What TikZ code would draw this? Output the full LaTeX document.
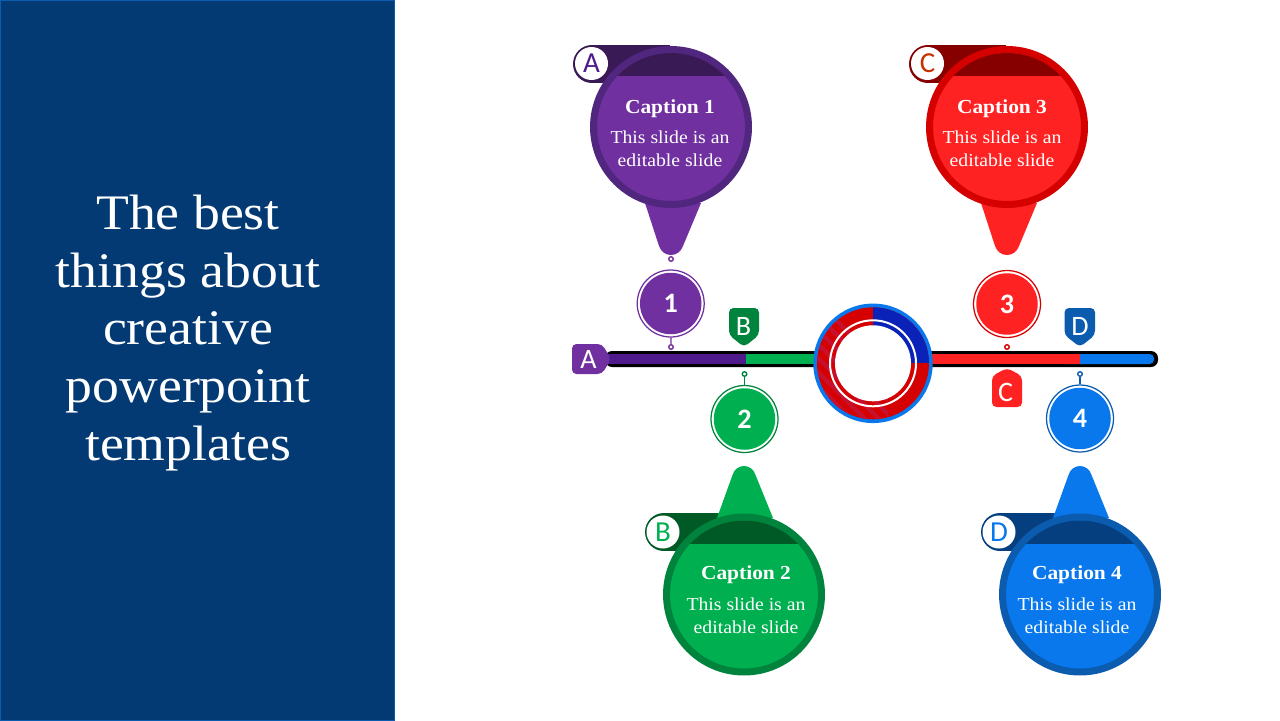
\documentclass[tikz,border=0pt]{standalone}
\usepackage{fontspec}
\setmainfont[FakeStretch=1.08]{Liberation Serif}
\newfontfamily\tagfont{Carlito}
\definecolor{panelblue}{HTML}{033A73}
\definecolor{purpfill}{HTML}{7030A0}
\definecolor{purpring}{HTML}{50267F}
\definecolor{purpcap}{HTML}{3A1A55}
\definecolor{purpbar}{HTML}{4F1A8C}
\definecolor{redfill}{HTML}{FF2222}
\definecolor{redring}{HTML}{D50000}
\definecolor{redcap}{HTML}{860000}
\definecolor{redletter}{HTML}{C83000}
\definecolor{redstripe}{HTML}{C8102E}
\definecolor{grnfill}{HTML}{00B050}
\definecolor{grnring}{HTML}{00843D}
\definecolor{grncap}{HTML}{005A26}
\definecolor{blufill}{HTML}{0878EC}
\definecolor{bluring}{HTML}{0B5CAE}
\definecolor{blucap}{HTML}{063F80}
\definecolor{hubblue}{HTML}{0A22B8}
\tikzset{
	balloon/.style={circle,minimum size=3.1cm,inner sep=0pt,line width=0.14cm},
	captxt/.style={text=white,font=\fontsize{11.3}{13}\selectfont\bfseries},
	bodytxt/.style={text=white,align=center,font=\fontsize{10.4}{13}\selectfont},
	whitecirc/.style={circle,fill=white,minimum size=0.66cm,inner sep=0pt,font=\tagfont\fontsize{16.5}{18}\selectfont},
	numring/.style={circle,fill=white,minimum size=1.34cm,inner sep=0pt,line width=0.025cm},
	numdisk/.style={circle,minimum size=1.23cm,inner sep=0pt,text=white,font=\tagfont\fontsize{16}{18}\selectfont\bfseries},
	smalldot/.style={circle,fill=white,minimum size=0.09cm,inner sep=0pt,line width=0.8pt},
	tagtxt/.style={text=white,inner sep=0pt,font=\tagfont\fontsize{16}{18}\selectfont},
}
\begin{document}
\begin{tikzpicture}[x=0.02cm,y=-0.02cm]
	\useasboundingbox (0,0) rectangle (1280,720);
	\fill[white] (0,0) rectangle (1280,720);

	% left panel
	\draw[draw=bluring,fill=panelblue,line width=0.5pt] (0.5,0.5) rectangle (394.5,720);
	\node[text=white,align=center,font=\fontsize{28.3}{32.9}\selectfont] (title) at (188,333) {The best\\things about\\creative\\powerpoint\\templates};

	% bar
	\fill[black,rounded corners=4pt] (605,351) rectangle (1158,367);
	\fill[purpbar] (605,354) rectangle (746,364);
	\fill[grnfill] (746,354) rectangle (815,364);
	\fill[blufill,rounded corners=2.5pt] (1060,354) rectangle (1154,364);
	\fill[redfill] (932,354) rectangle (1080,364);

	% hub
	\node[circle,fill=blufill,minimum size=2.39cm,inner sep=0pt] (hub) at (873,363.3) {};
	\fill[redring] (873,363.3) circle (56);
	\begin{scope}
		\clip (873,363.3) circle (56);
		\fill[hubblue] (873,363.3) rectangle (940,290);
		\clip (800,312) rectangle (888,430);
		\foreach \d in {-78,-64,...,6}
			\draw[draw=redstripe,line width=2.5pt] ({873+\d-80},{363-80}) -- ({873+\d+80},{363+80});
	\end{scope}
	\draw[white,line width=0.04cm] (873,363.3) circle (43);
	\fill[white] (873,363.3) circle (38);

	% balloon 1
	\fill[purpcap] (592,45) rectangle (670,83);
	\fill[purpcap] (592,64) circle (19);
	\fill[purpfill] (645,203) -- (659,246) .. controls (663,258) and (679,258) .. (683,246) -- (701,203) -- cycle;
	\node[balloon,fill=purpfill,draw=purpring] (bal1) at (671,127) {};
	\begin{scope}
		\clip (671,127) circle (74);
		\fill[purpcap] (590,46) rectangle (752,76);
	\end{scope}
	\node[whitecirc,text=purpbar] (let1) at (591.5,63.5) {A};
	\node[captxt] (cap1) at (670,109) {Caption 1};
	\node[bodytxt] (txt1) at (670,148.5) {This slide is an\\editable slide};

	% balloon 3
	\fill[redcap] (928,45) rectangle (1006,83);
	\fill[redcap] (928,64) circle (19);
	\fill[redfill] (981,203) -- (995,246) .. controls (999,258) and (1015,258) .. (1019,246) -- (1037,203) -- cycle;
	\node[balloon,fill=redfill,draw=redring] (bal3) at (1007,127) {};
	\begin{scope}
		\clip (1007,127) circle (74);
		\fill[redcap] (926,46) rectangle (1088,76);
	\end{scope}
	\node[whitecirc,text=redletter] (let3) at (927.5,63.5) {C};
	\node[captxt] (cap3) at (1002,109) {Caption 3};
	\node[bodytxt] (txt3) at (1002,148.5) {This slide is an\\editable slide};

	% balloon 2
	\fill[grncap] (664,513) rectangle (744,551);
	\fill[grncap] (664,532) circle (19);
	\fill[grnfill] (717,518) -- (732.5,475) .. controls (736,463) and (752,463) .. (755.5,475) -- (773,518) -- cycle;
	\node[balloon,fill=grnfill,draw=grnring] (bal2) at (744,594.5) {};
	\begin{scope}
		\clip (744,594.5) circle (74);
		\fill[grncap] (663,514) rectangle (825,544);
	\end{scope}
	\node[whitecirc,text=grnfill] (let2) at (663,532) {B};
	\node[captxt] (cap2) at (746,575) {Caption 2};
	\node[bodytxt] (txt2) at (746,616) {This slide is an\\editable slide};

	% balloon 4
	\fill[blucap] (1000,513) rectangle (1080,551);
	\fill[blucap] (1000,532) circle (19);
	\fill[blufill] (1053,518) -- (1068.5,475) .. controls (1072,463) and (1088,463) .. (1091.5,475) -- (1109,518) -- cycle;
	\node[balloon,fill=blufill,draw=bluring] (bal4) at (1080,594.5) {};
	\begin{scope}
		\clip (1080,594.5) circle (74);
		\fill[blucap] (999,514) rectangle (1161,544);
	\end{scope}
	\node[whitecirc,text=blufill] (let4) at (999,532) {D};
	\node[captxt] (cap4) at (1077,575) {Caption 4};
	\node[bodytxt] (txt4) at (1077,616) {This slide is an\\editable slide};

	% number circles
	\node[numring,draw=purpfill] (ring1) at (670.7,303.5) {};
	\node[numdisk,fill=purpfill] (num1) at (670.7,303.5) {1};
	\node[numring,draw=grnring] (ring2) at (744.5,419) {};
	\node[numdisk,fill=grnfill] (num2) at (744.5,419) {2};
	\node[numring,draw=redring] (ring3) at (1007,304) {};
	\node[numdisk,fill=redfill] (num3) at (1007,304) {3};
	\node[numring,draw=bluring] (ring4) at (1080,418.5) {};
	\node[numdisk,fill=blufill] (num4) at (1080,418.5) {4};

	% small dots
	\node[smalldot,draw=purpfill] (tip1) at (671,259) {};
	\node[smalldot,draw=purpfill] (dot1) at (671,347) {};
	\node[smalldot,draw=grnring] (dot2) at (744.5,374) {};
	\node[smalldot,draw=redring] (dot3) at (1007,347) {};
	\node[smalldot,draw=bluring] (dot4) at (1080,374) {};
	\draw[purpfill,line width=0.8pt] (ring1) -- (dot1);
	\draw[grnring,line width=0.8pt] (ring2) -- (dot2);
	\draw[bluring,line width=0.8pt] (ring4) -- (dot4);

	% tags
	\fill[purpfill,rounded corners=2.5pt] (572,344) -- (602,344) -- (611,359) -- (602,374) -- (572,374) -- cycle;
	\node[tagtxt] (tagA) at (588.5,359.5) {A};
	\fill[grnring,rounded corners=2.5pt] (729,308) -- (759,308) -- (759,335) -- (744,347) -- (729,335) -- cycle;
	\node[tagtxt] (tagB) at (743.5,326) {B};
	\fill[redfill,rounded corners=2.5pt] (992,407) -- (1022,407) -- (1022,376) -- (1007,368) -- (992,376) -- cycle;
	\node[tagtxt] (tagC) at (1005.5,392) {C};
	\fill[bluring,rounded corners=2.5pt] (1064.5,308) -- (1095,308) -- (1095,335) -- (1080,347) -- (1064.5,335) -- cycle;
	\node[tagtxt] (tagD) at (1080,326) {D};
\end{tikzpicture}
\end{document}
